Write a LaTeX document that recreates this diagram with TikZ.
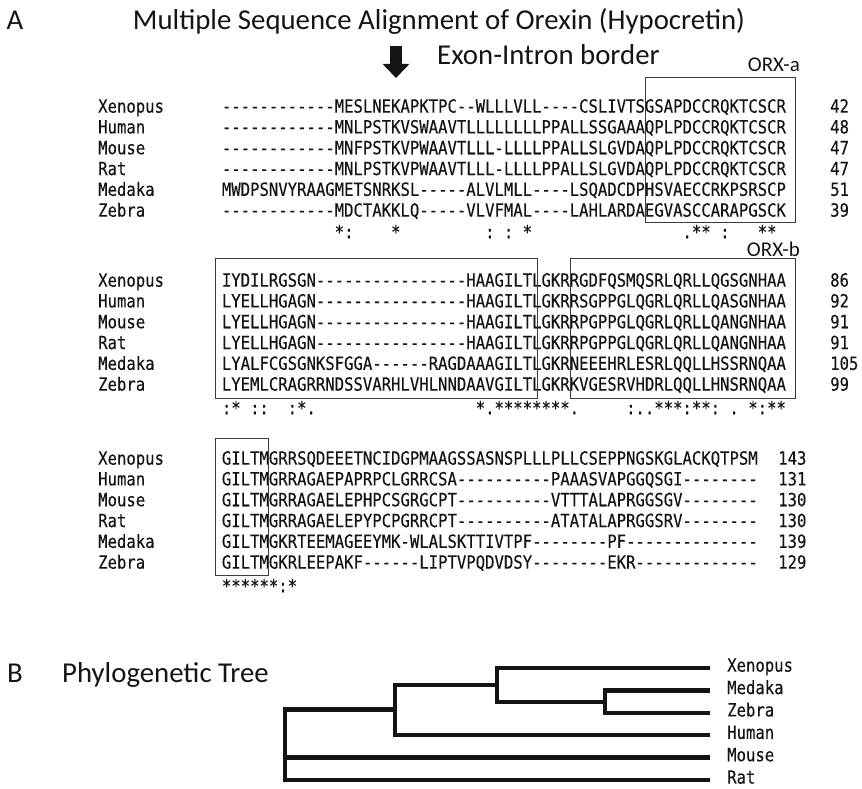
\documentclass[tikz,border=0pt]{standalone}
\usepackage{fontspec}
\setmainfont{Carlito}
\setmonofont{DejaVu Sans Mono}[FakeStretch=0.858,FakeBold=0.3]
\usetikzlibrary{arrows.meta}
\definecolor{alnInk}{HTML}{141414}
\definecolor{alnBox}{HTML}{3C3C3C}

\begin{document}
\begin{tikzpicture}[x=1pt, y=-1pt,
  seq/.style={font=\ttfamily\fontsize{18.2}{21}\selectfont, text=alnInk, inner sep=0pt, anchor=west, text height=13.3pt, text depth=0pt},
  head/.style={font=\fontsize{28.8}{30}\selectfont, text=alnInk, inner sep=0pt, text height=18pt, text depth=0pt},
  orx/.style={font=\fontsize{21}{22}\selectfont, text=alnInk, inner sep=0pt, anchor=east, text height=13.5pt, text depth=0pt},
  regbox/.style={draw=alnBox, line width=0.8pt},
  branch/.style={draw=alnInk, line width=4.5pt},
]
\useasboundingbox (0,0) rectangle (862,789);
\def\sx{221.7}\def\cw{9.4}\def\dy{20.8}\def\nx{98}
% ---- panel A headings ----
\node[head] (panA) at (15,21){A};
\node[head] (title) at (439,21){Multiple Sequence Alignment of Orexin (Hypocretin)};
\node[head, anchor=west] (exon) at (437,56){Exon-Intron border};
\coordinate (exon-top) at (396,46);
\coordinate (exon-tip) at (396,78);
\draw[alnInk, line width=12pt, -{Triangle[width=26pt,length=14pt]}] (exon-top) -- (exon-tip);
% ---- block 1 ----
\foreach \i/\sp/\s/\n in {0/Xenopus/------------MESLNEKAPKTPC--WLLLVLL----CSLIVTSGSAPDCCRQKTCSCR/42,
  1/Human/------------MNLPSTKVSWAAVTLLLLLLLLPPALLSSGAAAQPLPDCCRQKTCSCR/48,
  2/Mouse/------------MNFPSTKVPWAAVTLLL-LLLLPPALLSLGVDAQPLPDCCRQKTCSCR/47,
  3/Rat/------------MNLPSTKVPWAAVTLLL-LLLLPPALLSLGVDAQPLPDCCRQKTCSCR/47,
  4/Medaka/MWDPSNVYRAAGMETSNRKSL-----ALVLMLL----LSQADCDPHSVAECCRKPSRSCP/51,
  5/Zebra/------------MDCTAKKLQ-----VLVFMAL----LAHLARDAEGVASCCARAPGSCK/39}{
  \node[seq] (a-name-\i) at (\nx,106+\i*\dy){\sp};
  \node[seq] (a-seq-\i) at (\sx,106+\i*\dy){\s};
  \node[seq] (a-num-\i) at (830,106+\i*\dy){\n};
}
\foreach \c/\m in {13/*,14/:,19/*,29/:,31/:,33/*,50/.,51/*,52/*,54/:,58/*,59/*}
  \node[seq] (a-cons-\c) at ({\sx+(\c-1)*\cw},106+6*\dy+1){\m};
\node[orx] (orxa) at (800,65){ORX-a};
\draw[regbox] (645,77) rectangle (795,222);
% ---- block 2 ----
\foreach \i/\sp/\s/\n in {0/Xenopus/IYDILRGSGN----------------HAAGILTLGKRRGDFQSMQSRLQRLLQGSGNHAA/86,
  1/Human/LYELLHGAGN----------------HAAGILTLGKRRSGPPGLQGRLQRLLQASGNHAA/92,
  2/Mouse/LYELLHGAGN----------------HAAGILTLGKRRPGPPGLQGRLQRLLQANGNHAA/91,
  3/Rat/LYELLHGAGN----------------HAAGILTLGKRRPGPPGLQGRLQRLLQANGNHAA/91,
  4/Medaka/LYALFCGSGNKSFGGA------RAGDAAAGILTLGKRNEEEHRLESRLQQLLHSSRNQAA/105,
  5/Zebra/LYEMLCRAGRRNDSSVARHLVHLNNDAAVGILTLGKRKVGESRVHDRLQQLLHNSRNQAA/99}{
  \node[seq] (b-name-\i) at (\nx,280+\i*\dy){\sp};
  \node[seq] (b-seq-\i) at (\sx,280+\i*\dy){\s};
  \node[seq] (b-num-\i) at (830,280+\i*\dy){\n};
}
\foreach \c/\m in {1/:,2/*,4/:,5/:,8/:,9/*,10/.,28/*,29/.,30/*,31/*,32/*,33/*,34/*,35/*,36/*,37/*,38/.,
  44/:,45/.,46/.,47/*,48/*,49/*,50/:,51/*,52/*,53/:,55/.,57/*,58/:,59/*,60/*}
  \node[seq] (b-cons-\c) at ({\sx+(\c-1)*\cw},280+6*\dy+3){\m};
\node[orx] (orxb) at (800,250){ORX-b};
\draw[regbox] (215,258) rectangle (537,398);
\draw[regbox] (570,258) rectangle (795,398);
% ---- block 3 ----
\foreach \i/\sp/\s/\n in {0/Xenopus/GILTMGRRSQDEEETNCIDGPMAAGSSASNSPLLLPLLCSEPPNGSKGLACKQTPSM/143,
  1/Human/GILTMGRRAGAEPAPRPCLGRRCSA----------PAAASVAPGGQSGI--------/131,
  2/Mouse/GILTMGRRAGAELEPHPCSGRGCPT----------VTTTALAPRGGSGV--------/130,
  3/Rat/GILTMGRRAGAELEPYPCPGRRCPT----------ATATALAPRGGSRV--------/130,
  4/Medaka/GILTMGKRTEEMAGEEYMK-WLALSKTTIVTPF--------PF--------------/139,
  5/Zebra/GILTMGKRLEEPAKF------LIPTVPQDVDSY--------EKR-------------/129}{
  \node[seq] (c-name-\i) at (\nx,458+\i*\dy){\sp};
  \node[seq] (c-seq-\i) at (\sx,458+\i*\dy){\s};
  \node[seq] (c-num-\i) at (778,458+\i*\dy){\n};
}
\foreach \c/\m in {1/*,2/*,3/*,4/*,5/*,6/*,7/:,8/*}
  \node[seq] (c-cons-\c) at ({\sx+(\c-1)*\cw},458+6*\dy+3){\m};
\draw[regbox] (215,438) rectangle (268,575);
% ---- panel B: tree ----
\node[head] (panB) at (15,673){B};
\node[head, anchor=west] (treeT) at (62,673){Phylogenetic Tree};
\foreach \i/\sp in {0/Xenopus,1/Medaka,2/Zebra,3/Human,4/Mouse,5/Rat}{
  \node[seq] (leaf-\i) at (727,665+\i*22.4){\sp};
  \coordinate (tip-\i) at ([xshift=-17pt,yshift=-3pt]leaf-\i.west);
}
\coordinate (nC) at (605,702);
\coordinate (nB) at (497,685);
\coordinate (nA) at (395,709.5);
\coordinate (nR) at (285,760);
\draw[branch] (tip-1) -| (nC) |- (tip-2);
\draw[branch] (tip-0) -| (nB |- nC) -- (nC);
\draw[branch] (nB) -- (nA |- nB) |- (tip-3);
\draw[branch] (nA) -- (nR |- nA) |- (tip-5);
\draw[branch] (nR |- tip-4) -- (tip-4);
\end{tikzpicture}
\end{document}
